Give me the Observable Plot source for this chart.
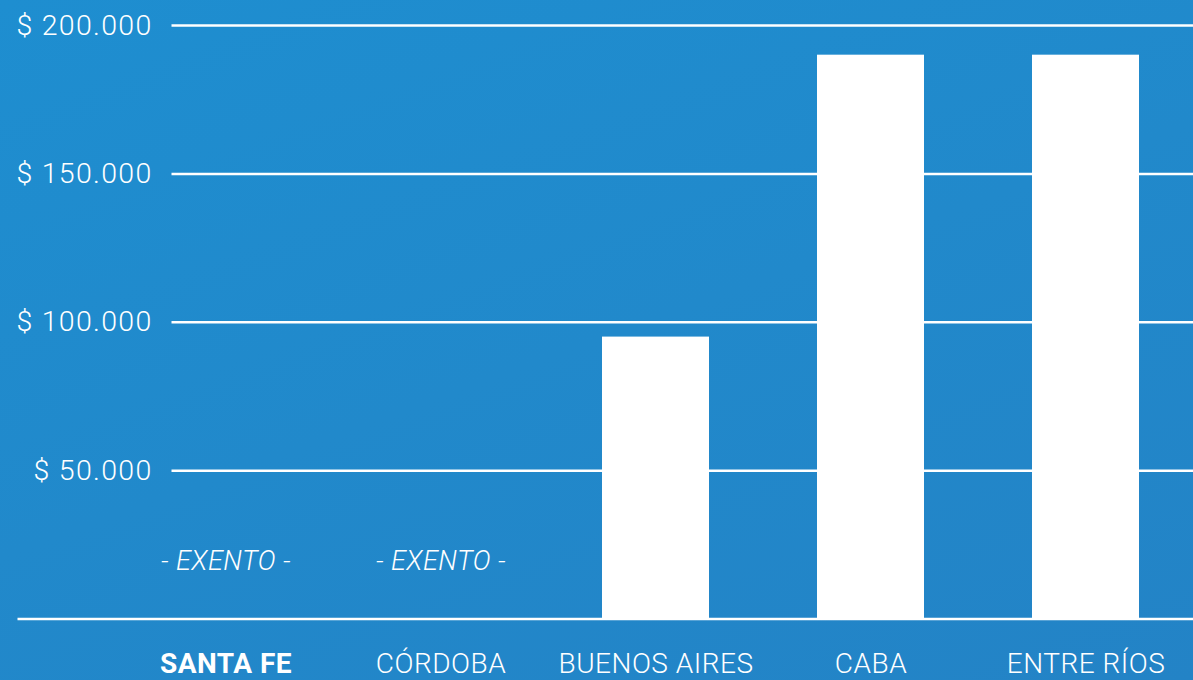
<!DOCTYPE html>
<html>
<head>
<meta charset="utf-8">
<script src="https://cdn.jsdelivr.net/npm/d3@7"></script>
<script src="https://cdn.jsdelivr.net/npm/@observablehq/plot@0.6"></script>
<style>
  html, body { margin: 0; padding: 0; }
  body {
    width: 1193px; height: 680px; overflow: hidden;
    background: linear-gradient(160deg, #1e8ed0 0%, #2189cb 50%, #2383c6 100%);
  }
  #chart svg { display: block; background: transparent; }
  #chart g[aria-label="y-axis tick label"] text { letter-spacing: 1.3px; }
  #chart g[aria-label="text"] text { letter-spacing: 0.5px; }
</style>
</head>
<body>
<div id="chart"></div>
<script>
// Data
const provinces = ["SANTA FE", "CÓRDOBA", "BUENOS AIRES", "CABA", "ENTRE RÍOS"];
const amounts = [0, 0, 95000, 190000, 190000];
const exempt = [true, true, false, false, false];
const highlighted = ["SANTA FE"];
const yTicks = [50000, 100000, 150000, 200000];
const exemptLabel = "- EXENTO -";

const rows = provinces.map((p, i) => ({province: p, amount: amounts[i], exempt: exempt[i]}));
const fmt = (d) => "$ " + d3.format(",")(d).replace(/,/g, ".");

const font = "Roboto, 'Open Sans', sans-serif";

const chart = Plot.plot({
  width: 1193,
  height: 680,
  marginLeft: 171.5,
  marginRight: 54.4,
  marginTop: 25,
  marginBottom: 61.5,
  style: {background: "transparent", color: "white", fontFamily: font},
  x: {domain: provinces, paddingInner: 0.502, paddingOuter: 0, axis: null},
  y: {domain: [0, 200000], axis: null},
  marks: [
    Plot.ruleY(yTicks, {stroke: "white", strokeWidth: 2.5, insetRight: -60}),
    Plot.barY(rows.filter(d => !d.exempt), {x: "province", y: "amount", fill: "white"}),
    Plot.ruleY([0], {stroke: "white", strokeWidth: 2.5, insetLeft: -154, insetRight: -60}),
    Plot.axisY(yTicks, {
      tickSize: 0, tickPadding: 19.5, tickFormat: fmt, label: null,
      fontSize: 28.5, fontWeight: 300, fill: "white", textAnchor: "end"
    }),
    Plot.text(rows.filter(d => d.exempt), {
      x: "province", y: 0, text: () => exemptLabel, dy: -57.5,
      fontSize: 27, fontStyle: "italic", fontWeight: 300, fill: "white", lineAnchor: "middle"
    }),
    Plot.text(rows.filter(d => highlighted.includes(d.province)), {
      x: "province", y: 0, text: "province", dy: 45.5,
      fontSize: 28, fontWeight: 700, fill: "white", lineAnchor: "middle"
    }),
    Plot.text(rows.filter(d => !highlighted.includes(d.province)), {
      x: "province", y: 0, text: "province", dy: 45.5,
      fontSize: 28, fontWeight: 300, fill: "white", lineAnchor: "middle"
    })
  ]
});
document.getElementById("chart").append(chart);
</script>
</body>
</html>
